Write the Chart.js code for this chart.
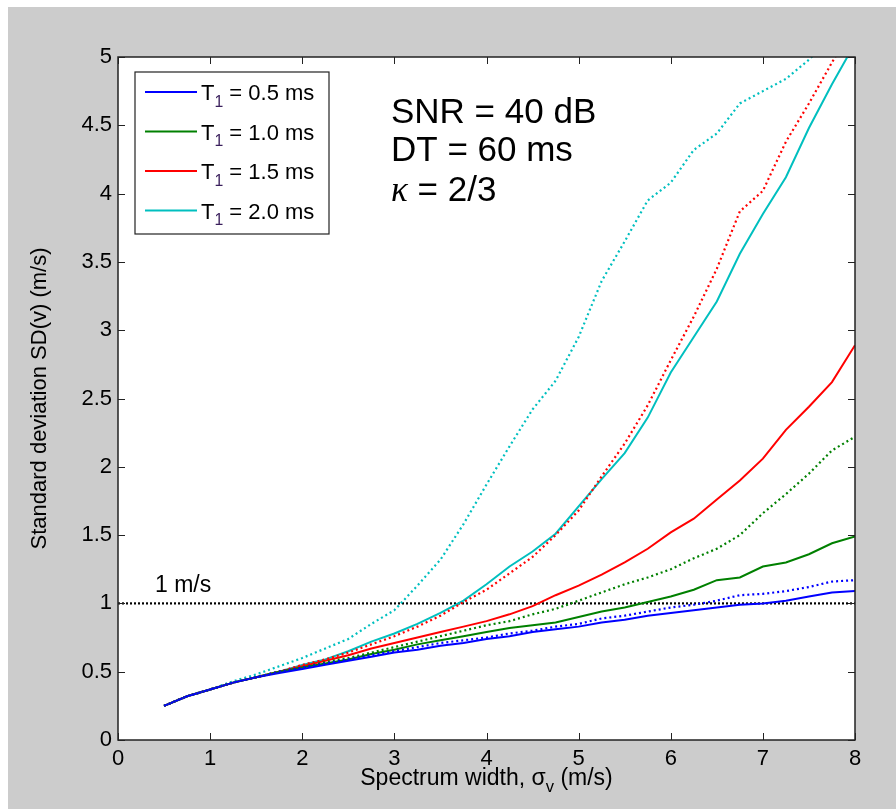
<!DOCTYPE html>
<html lang="en">
<head>
  <meta charset="UTF-8" />
  <title>SD(v) vs spectrum width</title>
  <script src="https://cdn.jsdelivr.net/npm/chart.js"></script>
  <style>
    body { margin: 0; background: #fff; }
    #wrap { position: absolute; left: 8px; top: 7px; width: 888px; height: 802px; background: #cccccc; }
  </style>
</head>
<body>
  <div id="wrap"><canvas id="chartSD" width="888" height="802"></canvas></div>

  <script>
    const FONT = "Arial, 'Liberation Sans', Helvetica, sans-serif";

    // spectrum width sigma_v (m/s)
    const sigmaV = [0.5, 0.75, 1, 1.25, 1.5, 1.75, 2, 2.25, 2.5, 2.75, 3, 3.25, 3.5, 3.75, 4, 4.25,
                    4.5, 4.75, 5, 5.25, 5.5, 5.75, 6, 6.25, 6.5, 6.75, 7, 7.25, 7.5, 7.75, 8];

    // SD(v) in m/s, solid and dotted curve for each T1
    const blueSolid   = [0.25,0.32,0.37,0.42,0.46,0.49,0.52,0.55,0.58,0.61,0.64,0.66,0.69,0.71,0.74,0.76,0.79,0.81,0.83,0.86,0.88,0.91,0.93,0.95,0.97,0.99,1.00,1.02,1.05,1.08,1.09];
    const blueDotted  = [0.25,0.32,0.37,0.42,0.46,0.50,0.53,0.56,0.59,0.62,0.65,0.68,0.71,0.73,0.75,0.78,0.80,0.83,0.85,0.89,0.91,0.94,0.97,0.99,1.02,1.06,1.07,1.09,1.12,1.16,1.17];
    const greenSolid  = [0.25,0.32,0.37,0.42,0.46,0.50,0.53,0.56,0.59,0.63,0.66,0.70,0.73,0.76,0.79,0.82,0.84,0.86,0.90,0.94,0.97,1.01,1.05,1.10,1.17,1.19,1.27,1.30,1.36,1.44,1.49];
    const greenDotted = [0.25,0.32,0.37,0.42,0.46,0.50,0.53,0.57,0.60,0.64,0.68,0.72,0.76,0.80,0.84,0.87,0.92,0.96,1.02,1.08,1.14,1.19,1.25,1.33,1.40,1.50,1.66,1.80,1.95,2.12,2.22];
    const redSolid    = [0.25,0.32,0.37,0.42,0.46,0.50,0.54,0.58,0.62,0.67,0.71,0.75,0.79,0.83,0.87,0.92,0.98,1.06,1.13,1.21,1.30,1.40,1.52,1.62,1.76,1.90,2.06,2.27,2.44,2.62,2.89];
    const redDotted   = [0.25,0.32,0.37,0.42,0.46,0.50,0.55,0.59,0.64,0.70,0.76,0.83,0.91,1.01,1.10,1.22,1.34,1.50,1.68,1.93,2.17,2.45,2.78,3.10,3.45,3.87,4.02,4.38,4.66,4.96,5.25];
    const cyanSolid   = [0.25,0.32,0.37,0.42,0.46,0.50,0.55,0.59,0.65,0.72,0.78,0.85,0.93,1.02,1.14,1.27,1.38,1.51,1.71,1.91,2.10,2.36,2.69,2.95,3.21,3.56,3.85,4.12,4.48,4.80,5.10];
    const cyanDotted  = [0.25,0.32,0.37,0.43,0.48,0.54,0.60,0.67,0.74,0.85,0.95,1.13,1.32,1.58,1.87,2.15,2.42,2.63,2.95,3.36,3.65,3.95,4.08,4.32,4.44,4.66,4.75,4.84,4.98,5.15,5.30];

    const legendLabels = ['0.5', '1.0', '1.5', '2.0'];
    const colors = ['#0000ff', '#008000', '#ff0000', '#00bfbf'];
    const solidSets  = [blueSolid, greenSolid, redSolid, cyanSolid];
    const dottedSets = [blueDotted, greenDotted, redDotted, cyanDotted];

    const refLevel = 1;   // 1 m/s threshold
    const xTicks = [0, 1, 2, 3, 4, 5, 6, 7, 8];
    const yTicks = [0, 0.5, 1, 1.5, 2, 2.5, 3, 3.5, 4, 4.5, 5];

    const toPoints = (ys) => ys.map((y, i) => ({ x: sigmaV[i], y: y }));

    const datasets = [];
    dottedSets.forEach((ys, i) => {
      datasets.push({ data: toPoints(ys), borderColor: colors[i], borderWidth: 2.2,
                      borderDash: [2, 3], pointRadius: 0, fill: false });
    });
    solidSets.forEach((ys, i) => {
      datasets.push({ data: toPoints(ys), borderColor: colors[i], borderWidth: 2,
                      pointRadius: 0, fill: false });
    });
    datasets.push({
      data: [{ x: xTicks[0], y: refLevel }, { x: xTicks[xTicks.length - 1], y: refLevel }],
      borderColor: '#000', borderWidth: 2.2, borderDash: [2, 2], pointRadius: 0, fill: false
    });

    // draw a run of text pieces, some as subscripts
    function drawRuns(ctx, runs, x, y, size) {
      ctx.textBaseline = 'alphabetic';
      ctx.textAlign = 'left';
      runs.forEach(r => {
        const s = r.sub ? size * 0.72 : size;
        ctx.font = (r.font || '') + ' ' + s + 'px ' + (r.family || FONT);
        ctx.fillStyle = r.color || '#000';
        ctx.fillText(r.t, x, r.sub ? y + size * 0.3 : y);
        x += ctx.measureText(r.t).width;
      });
    }

    const framePlugin = {
      id: 'frame',
      beforeDraw(chart) {
        const a = chart.chartArea, ctx = chart.ctx;
        ctx.save();
        ctx.fillStyle = '#fff';
        ctx.fillRect(a.left, a.top, a.right - a.left, a.bottom - a.top);
        ctx.restore();
      },
      afterDatasetsDraw(chart) {
        const a = chart.chartArea, ctx = chart.ctx;
        const sx = chart.scales.x, sy = chart.scales.y;
        ctx.save();
        ctx.strokeStyle = '#222';
        ctx.lineWidth = 1.5;
        ctx.strokeRect(a.left, a.top, a.right - a.left, a.bottom - a.top);
        ctx.beginPath();
        sx.ticks.forEach(t => {
          const px = Math.round(sx.getPixelForValue(t.value)) + 0.5;
          ctx.moveTo(px, a.bottom); ctx.lineTo(px, a.bottom - 7);
          ctx.moveTo(px, a.top); ctx.lineTo(px, a.top + 7);
        });
        sy.ticks.forEach(t => {
          const py = Math.round(sy.getPixelForValue(t.value)) + 0.5;
          ctx.moveTo(a.left, py); ctx.lineTo(a.left + 7, py);
          ctx.moveTo(a.right, py); ctx.lineTo(a.right - 7, py);
        });
        ctx.lineWidth = 1;
        ctx.stroke();

        // legend box
        const lx = a.left + 17, ly = a.top + 15, lw = 194, lh = 162;
        ctx.fillStyle = '#fff';
        ctx.fillRect(lx, ly, lw, lh);
        ctx.strokeStyle = '#222';
        ctx.lineWidth = 1.2;
        ctx.strokeRect(lx, ly, lw, lh);
        legendLabels.forEach((lab, i) => {
          const yy = ly + 20 + i * 39.5;
          ctx.strokeStyle = colors[i];
          ctx.lineWidth = 2;
          ctx.beginPath();
          ctx.moveTo(lx + 10, yy); ctx.lineTo(lx + 62, yy);
          ctx.stroke();
          drawRuns(ctx, [
            { t: 'T' }, { t: '1', sub: true, color: '#3a1f5c' }, { t: ' = ' + lab + ' ms' }
          ], lx + 66, yy + 8, 22);
        });

        // run parameters
        const tx = a.left + 273;
        drawRuns(ctx, [{ t: 'SNR = 40 dB' }], tx, a.top + 66, 35);
        drawRuns(ctx, [{ t: 'DT = 60 ms' }], tx, a.top + 104, 35);
        drawRuns(ctx, [{ t: 'κ', font: 'italic', family: "'Liberation Serif', 'DejaVu Serif', 'Times New Roman', serif" },
                       { t: ' = 2/3' }], tx, a.top + 144, 35);

        // threshold label
        drawRuns(ctx, [{ t: '1 m/s' }], a.left + 37, sy.getPixelForValue(refLevel) - 11, 23);

        // x axis title with subscript
        const tsize = 23;
        const runs = [{ t: 'Spectrum width, σ' }, { t: 'v', sub: true }, { t: ' (m/s)' }];
        let w = 0;
        runs.forEach(r => { ctx.font = (r.sub ? tsize * 0.72 : tsize) + 'px ' + FONT; w += ctx.measureText(r.t).width; });
        drawRuns(ctx, runs, (a.left + a.right) / 2 - w / 2, a.bottom + 45, tsize);
        ctx.restore();
      }
    };

    const ctxSD = document.getElementById('chartSD').getContext('2d');
    const chartSD = new Chart(ctxSD, {
      type: 'line',
      data: { datasets: datasets },
      options: {
        responsive: false,
        animation: false,
        devicePixelRatio: 1,
        layout: { padding: { top: 50, right: 41, left: 0, bottom: 0 } },
        plugins: { legend: { display: false }, tooltip: { enabled: false } },
        elements: { line: { tension: 0 } },
        scales: {
          x: {
            type: 'linear', min: 0, max: 8,
            afterBuildTicks: s => { s.ticks = xTicks.map(v => ({ value: v })); },
            grid: { display: false, drawTicks: false },
            border: { display: false },
            ticks: { color: '#000', font: { family: FONT, size: 22 }, padding: 6, maxRotation: 0,
                     callback: v => String(v) },
            afterFit: s => { s.height = 69; }
          },
          y: {
            type: 'linear', min: 0, max: 5,
            afterBuildTicks: s => { s.ticks = yTicks.map(v => ({ value: v })); },
            grid: { display: false, drawTicks: false },
            border: { display: false },
            ticks: { color: '#000', font: { family: FONT, size: 22 }, padding: 6,
                     callback: v => String(v) },
            title: { display: true, text: 'Standard deviation SD(v) (m/s)', color: '#000',
                     font: { family: FONT, size: 22 }, padding: { top: 19, bottom: 0 } },
            afterFit: s => { s.width = 110; }
          }
        }
      },
      plugins: [framePlugin]
    });
  </script>
</body>
</html>
